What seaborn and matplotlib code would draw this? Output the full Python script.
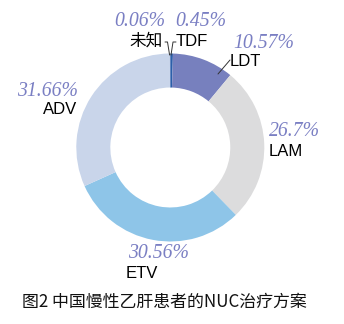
import matplotlib
matplotlib.use("Agg")
import matplotlib.pyplot as plt
import seaborn as sns

# Data (clockwise from top)
categories = ["TDF", "LDT", "LAM", "ETV", "ADV", "未知"]
shares = [0.45, 10.57, 26.7, 30.56, 31.66, 0.06]
pct_labels = ["0.45%", "10.57%", "26.7%", "30.56%", "31.66%", "0.06%"]
colors_hex = ["#2b5fa9", "#7780be", "#dcdcdd", "#8ec5e8", "#c9d5ea", "#5a7fc0"]
caption = "图2 中国慢性乙肝患者的NUC治疗方案"

sns.set_theme(style="white")
plt.rcParams['font.family'] = ['Liberation Sans', 'Noto Sans CJK SC', 'DejaVu Sans']

W, H = 344, 324
fig = plt.figure(figsize=(W / 100, H / 100), dpi=100)
cx, cy, R = 170.3, 147.5, 94.0
ax = fig.add_axes([(cx - R) / W, (H - cy - R) / H, 2 * R / W, 2 * R / H])

palette = sns.color_palette(colors_hex)
ax.pie(shares, colors=palette, startangle=90, counterclock=False,
       radius=1.0, wedgeprops=dict(width=0.362, edgecolor='none', linewidth=0))
ax.set_xlim(-1, 1)
ax.set_ylim(-1, 1)
ax.set_aspect('equal')
ax.axis('off')

def d(px, py):
    return (px - cx) / R, (cy - py) / R

pct_color = "#7a7fc3"
pct_kw = dict(family='Liberation Serif', style='italic', fontsize=14.2,
              color=pct_color, va='center', clip_on=False)
lab_kw = dict(fontsize=12, color='black', va='center', clip_on=False,
              family=['Liberation Sans', 'Noto Sans CJK SC'])

# label positions (pixel anchors) per category
pct_pos = {
    "TDF": (201, 21, 'center'),
    "LDT": (233, 43, 'left'),
    "LAM": (269, 132, 'left'),
    "ETV": (128, 254, 'left'),
    "ADV": (78, 92, 'right'),
    "未知": (140, 21, 'center'),
}
name_pos = {
    "TDF": (176, 41, 'left'),
    "LDT": (230, 61, 'left'),
    "LAM": (269, 151, 'left'),
    "ETV": (126, 273, 'left'),
    "ADV": (77, 110, 'right'),
    "未知": (163, 41, 'right'),
}
for cat, pl in zip(categories, pct_labels):
    px, py, ha = pct_pos[cat]
    x, y = d(px, py)
    ax.text(x, y, pl, ha=ha, **pct_kw)
    px, py, ha = name_pos[cat]
    x, y = d(px, py)
    ax.text(x, y, cat, ha=ha, **lab_kw)

# leader lines
for pts in ([(165, 42), (167.5, 42), (169.6, 55)],
            [(176, 42), (173, 42), (171, 55)],
            [(230, 60), (218, 74)]):
    xs, ys = zip(*[d(p[0], p[1]) for p in pts])
    ax.plot(xs, ys, color='#333333', lw=0.7, clip_on=False)

fig.text(22 / W, 1 - 302 / H, caption, fontsize=12.2, va='center', ha='left',
         family=['Noto Sans CJK SC', 'DejaVu Sans'], color='#111111')

fig.savefig("out.png", dpi=100)
